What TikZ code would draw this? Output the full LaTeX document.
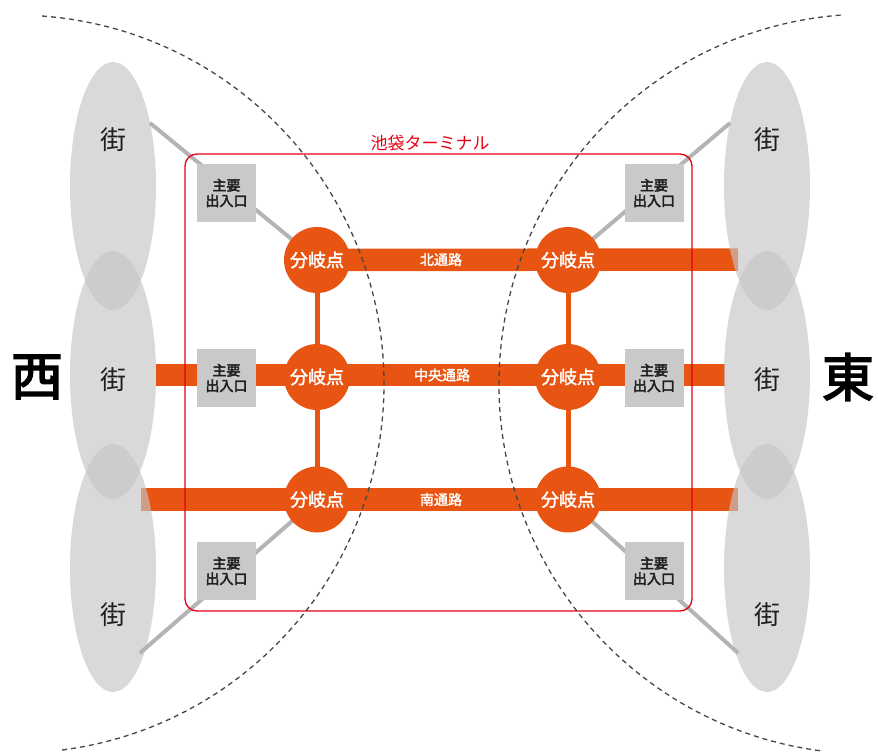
\documentclass[tikz,border=0pt]{standalone}
\usepackage{fontspec}
\setmainfont{Noto Sans CJK JP}
\newfontfamily\cjkheavy{Noto Sans CJK JP}[FakeBold=3]
\newfontfamily\cjkmid{Noto Sans CJK JP}[FakeBold=2]
\usetikzlibrary{shapes.geometric}
\definecolor{roadorange}{RGB}{232,85,18}
\definecolor{towngray}{RGB}{197,197,197}
\definecolor{boxgray}{RGB}{201,201,201}
\definecolor{linkgray}{RGB}{180,180,180}
\definecolor{termred}{RGB}{230,0,18}
\definecolor{dashgray}{RGB}{70,70,70}
\definecolor{txtdark}{RGB}{30,30,30}
\tikzset{
  town/.style={ellipse, fill=towngray, fill opacity=0.66, draw=none, minimum width=86pt, minimum height=248pt, inner sep=0pt},
  towntext/.style={font=\fontsize{26}{28}\selectfont, text=txtdark},
  sidetext/.style={font=\fontsize{52}{54}\selectfont\cjkheavy, text=black},
  road/.style={draw=roadorange, line width=22.5pt, line cap=butt},
  vlink/.style={draw=roadorange, line width=5pt},
  gatelink/.style={draw=linkgray, line width=4pt},
  gatebox/.style={rectangle, fill=boxgray, minimum width=59pt, minimum height=58pt, inner sep=0pt, align=center, font=\fontsize{14}{15.5}\selectfont\cjkheavy, text=txtdark},
  branch/.style={circle, fill=roadorange, minimum size=66pt, inner sep=0pt, font=\fontsize{18}{20}\selectfont\cjkmid, text=white},
  roadlabel/.style={font=\fontsize{14}{16}\selectfont\cjkmid, text=white},
  terminal/.style={draw=termred, line width=1.3pt, rounded corners=12pt},
  zone/.style={draw=dashgray, line width=1.3pt, dash pattern=on 5pt off 4pt},
}
\begin{document}
\begin{tikzpicture}[x=1pt,y=-1pt]
\useasboundingbox (0,0) rectangle (878,754);

% road end coordinates
\coordinate (nEnd) at (738,259.5);
\coordinate (mStart) at (156,375);
\coordinate (mEnd) at (725,375);
\coordinate (sStart) at (141,499.5);
\coordinate (sEnd) at (738,499.5);

% branch point positions
\coordinate (pNW) at (317,260);
\coordinate (pW) at (317,377);
\coordinate (pSW) at (317,499.5);
\coordinate (pNE) at (568,260);
\coordinate (pE) at (568,377);
\coordinate (pSE) at (568,499.5);

% roads
\draw[road] (pNW) -- (nEnd);
\draw[road] (mStart) -- (mEnd);
\draw[road] (sStart) -- (sEnd);
\draw[vlink] (pNW) -- (pW);
\draw[vlink] (pW) -- (pSW);
\draw[vlink] (pNE) -- (pE);
\draw[vlink] (pE) -- (pSE);

% towns
\node[town] (tW1) at (113,186) {};
\node[town] (tW2) at (113,375) {};
\node[town] (tW3) at (113,568) {};
\node[town] (tE1) at (767,186) {};
\node[town] (tE2) at (767,375) {};
\node[town] (tE3) at (767,568) {};

% gate links
\coordinate (gTL) at (150,123);
\coordinate (gTR) at (730,123);
\coordinate (gBL) at (140,653);
\coordinate (gBR) at (738,653);
\draw[gatelink] (gTL) -- (pNW);
\draw[gatelink] (gTR) -- (pNE);
\draw[gatelink] (gBL) -- (pSW);
\draw[gatelink] (gBR) -- (pSE);

% gate boxes
\node[gatebox] (bTL) at (226.5,193) {主要\\出入口};
\node[gatebox] (bML) at (226.5,378) {主要\\出入口};
\node[gatebox] (bBL) at (226.5,571) {主要\\出入口};
\node[gatebox] (bTR) at (654,193) {主要\\出入口};
\node[gatebox] (bMR) at (654,378) {主要\\出入口};
\node[gatebox] (bBR) at (654,571) {主要\\出入口};

% branch points
\node[branch] (nw) at (pNW) {分岐点};
\node[branch] (w) at (pW) {分岐点};
\node[branch] (sw) at (pSW) {分岐点};
\node[branch] (ne) at (pNE) {分岐点};
\node[branch] (e) at (pE) {分岐点};
\node[branch] (se) at (pSE) {分岐点};

% road labels
\node[roadlabel] (lN) at (441,259.5) {北通路};
\node[roadlabel] (lM) at (442,375) {中央通路};
\node[roadlabel] (lS) at (441,499.5) {南通路};

% terminal
\draw[terminal] (185,154) rectangle (692,611);
\node[font=\fontsize{17}{19}\selectfont, text=termred] (termlabel) at (430,143) {池袋ターミナル};

% zones
\draw[zone] (15,384) ++(-85.8:369) arc[start angle=-85.8, end angle=83, radius=369];
\draw[zone] (869,384) ++(97.6:370) arc[start angle=97.6, end angle=265.8, radius=370];

% town texts
\node[towntext] (xW1) at (113,140) {街};
\node[towntext] (xW2) at (113,380) {街};
\node[towntext] (xW3) at (113,615) {街};
\node[towntext] (xE1) at (767,140) {街};
\node[towntext] (xE2) at (767,380) {街};
\node[towntext] (xE3) at (767,615) {街};

% sides
\node[sidetext] (west) at (37,377) {西};
\node[sidetext] (east) at (848,377) {東};
\end{tikzpicture}
\end{document}
